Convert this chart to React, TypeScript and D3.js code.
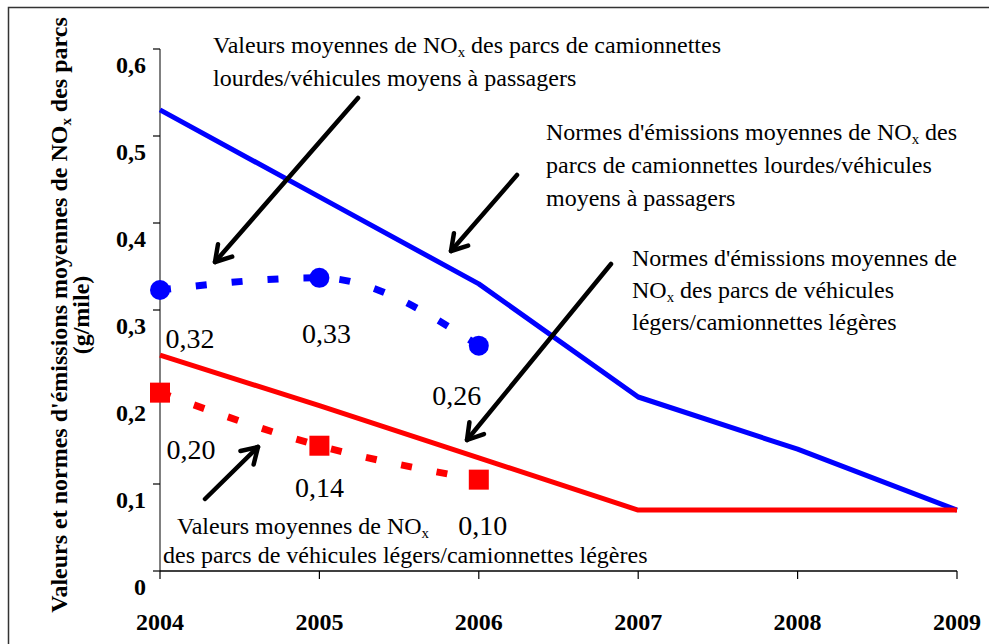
import React from "react";
import * as d3 from "d3";

const years = [2004, 2005, 2006, 2007, 2008, 2009];
const yTicks = [0, 0.1, 0.2, 0.3, 0.4, 0.5, 0.6];
const yTickLabels = ["0", "0,1", "0,2", "0,3", "0,4", "0,5", "0,6"];

const heavyStandard = [0.53, 0.43, 0.33, 0.2, 0.14, 0.07];
const lightStandard = [0.248, 0.19, 0.13, 0.07, 0.07, 0.07];

const valueYears = [2004, 2005, 2006];
const heavyValues = [0.323, 0.337, 0.259];
const lightValues = [0.205, 0.144, 0.105];
const heavyLabels = ["0,32", "0,33", "0,26"];
const lightLabels = ["0,20", "0,14", "0,10"];

const W = 989;
const H = 644;

const x = d3.scaleLinear().domain([2004, 2009]).range([160, 957]);
const y = d3.scaleLinear().domain([0, 0.6]).range([571, 49]);

const SERIF = { fontFamily: "Liberation Serif" };
const BLUE = "#0000ff";
const RED = "#ff0000";

function T(props: any) {
  return <text {...props} style={SERIF} />;
}

function Arrow({ x1, y1, x2, y2 }: { x1: number; y1: number; x2: number; y2: number }) {
  const ang = Math.atan2(y2 - y1, x2 - x1);
  const L = 18;
  const spread = 0.55;
  const a1 = ang + Math.PI - spread;
  const a2 = ang + Math.PI + spread;
  return (
    <g stroke="#000" strokeWidth={4.5} strokeLinecap="round" fill="none">
      <line x1={x1} y1={y1} x2={x2} y2={y2} />
      <polyline
        points={`${x2 + L * Math.cos(a1)},${y2 + L * Math.sin(a1)} ${x2},${y2} ${x2 + L * Math.cos(a2)},${y2 + L * Math.sin(a2)}`}
        strokeLinejoin="round"
      />
    </g>
  );
}

function NOx({ size }: { size: number }) {
  return (
    <>
      NO
      <tspan fontSize={size * 0.62} dy={size * 0.18}>x</tspan>
      <tspan dy={-size * 0.18}> </tspan>
    </>
  );
}

export default function App() {
  const solid = d3
    .line<number>()
    .x((_, i) => x(years[i]))
    .y((d) => y(d));
  const smooth = d3
    .line<number>()
    .x((_, i) => x(valueYears[i]))
    .y((d) => y(d))
    .curve(d3.curveMonotoneX);

  const annSize = 24;
  const tickSize = 24;

  return (
    <svg width={W} height={H} style={{ position: "absolute", left: 0, top: 0 }}>
      <rect x={0} y={0} width={W} height={H} fill="#fff" />
      {/* border */}
      <path d={`M8.5,${H + 5} V7.5 H${W + 5}`} fill="none" stroke="#333" strokeWidth={1.5} />

      {/* y axis */}
      <line x1={160} x2={160} y1={y(0)} y2={y(0.6)} stroke="#808080" strokeWidth={2} />
      {yTicks.map((t, i) => (
        <g key={t}>
          <line x1={153} x2={160} y1={y(t)} y2={y(t)} stroke="#000" strokeWidth={1.2} />
          <T x={146} y={y(t) + 24} textAnchor="end" fontWeight="bold" fontSize={tickSize}>
            {yTickLabels[i]}
          </T>
        </g>
      ))}

      {/* x axis */}
      <line x1={160} x2={x(2009)} y1={y(0)} y2={y(0)} stroke="#000" strokeWidth={1.5} />
      {years.map((yr) => (
        <g key={yr}>
          <line x1={x(yr)} x2={x(yr)} y1={y(0)} y2={y(0) + 8} stroke="#000" strokeWidth={1.2} />
          <T x={x(yr)} y={630} textAnchor="middle" fontWeight="bold" fontSize={tickSize}>
            {yr}
          </T>
        </g>
      ))}

      {/* y axis title */}
      <g transform="translate(67,315) rotate(-90)">
        <T x={0} y={0} textAnchor="middle" fontWeight="bold" fontSize={24}>
          Valeurs et normes d'émissions moyennes de <NOx size={24} />des parcs
        </T>
        <T x={0} y={22} textAnchor="middle" fontWeight="bold" fontSize={24}>
          (g/mile)
        </T>
      </g>

      {/* standards */}
      <path d={solid(heavyStandard) || ""} fill="none" stroke={BLUE} strokeWidth={5} strokeLinejoin="round" />
      <path d={solid(lightStandard) || ""} fill="none" stroke={RED} strokeWidth={5} strokeLinejoin="round" />

      {/* values */}
      <path d={smooth(heavyValues) || ""} fill="none" stroke={BLUE} strokeWidth={7} strokeDasharray="11 25" />
      <path d={smooth(lightValues) || ""} fill="none" stroke={RED} strokeWidth={7} strokeDasharray="11 25" />
      {heavyValues.map((v, i) => (
        <circle key={i} cx={x(valueYears[i])} cy={y(v)} r={10} fill={BLUE} />
      ))}
      {lightValues.map((v, i) => (
        <rect key={i} x={x(valueYears[i]) - 10} y={y(v) - 10} width={20} height={20} fill={RED} />
      ))}

      {/* data labels */}
      <g fontSize={28}>
        <T x={x(2004) + 30} y={348} textAnchor="middle">{heavyLabels[0]}</T>
        <T x={x(2005) + 7} y={343} textAnchor="middle">{heavyLabels[1]}</T>
        <T x={x(2006) - 22} y={405} textAnchor="middle">{heavyLabels[2]}</T>
        <T x={x(2004) + 31} y={459} textAnchor="middle">{lightLabels[0]}</T>
        <T x={x(2005)} y={497} textAnchor="middle">{lightLabels[1]}</T>
        <T x={x(2006) + 4} y={535} textAnchor="middle">{lightLabels[2]}</T>
      </g>

      {/* annotations */}
      <g fontSize={annSize}>
        <T x={213} y={53}>
          Valeurs moyennes de <NOx size={annSize} />des parcs de camionnettes
        </T>
        <T x={213} y={86}>lourdes/véhicules moyens à passagers</T>

        <T x={546} y={140}>
          Normes d'émissions moyennes de <NOx size={annSize} />des
        </T>
        <T x={546} y={173}>parcs de camionnettes lourdes/véhicules</T>
        <T x={546} y={206}>moyens à passagers</T>

        <T x={632} y={266}>Normes d'émissions moyennes de</T>
        <T x={632} y={298}>
          <NOx size={annSize} />des parcs de véhicules
        </T>
        <T x={632} y={330}>légers/camionnettes légères</T>

        <T x={177} y={534}>
          Valeurs moyennes de NO
          <tspan fontSize={annSize * 0.62} dy={annSize * 0.18}>x</tspan>
        </T>
        <T x={163} y={563}>des parcs de véhicules légers/camionnettes légères</T>
      </g>

      <Arrow x1={358} y1={98} x2={215} y2={262} />
      <Arrow x1={517} y1={175} x2={451} y2={251} />
      <Arrow x1={611} y1={264} x2={467} y2={440} />
      <Arrow x1={205} y1={499} x2={258} y2={447} />
    </svg>
  );
}
